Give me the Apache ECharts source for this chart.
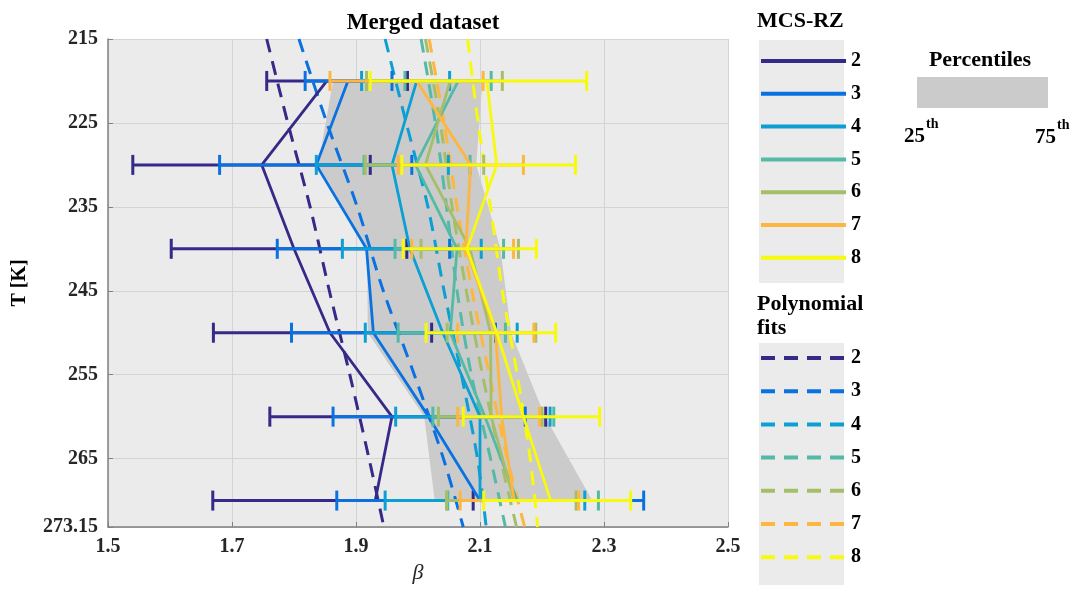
<!DOCTYPE html>
<html><head><meta charset="utf-8">
<script src="https://cdn.jsdelivr.net/npm/echarts@6.0.0/dist/echarts.min.js"></script>
<style>html,body{margin:0;padding:0;background:#fff}#c{width:1084px;height:599px}</style>
</head><body><div id="c"></div><script>
// ---- data ----
const temps = [220, 230, 240, 250, 260, 270];
const groups = ['2', '3', '4', '5', '6', '7', '8'];
const colors = ['#352a87', '#0a72e0', '#0c9fd4', '#55baa5', '#a5be6a', '#fdb640', '#f8fa0d'];
// mean beta per group (rows = groups, cols = temps)
const meanBeta = [
  [1.853, 1.748, 1.800, 1.858, 1.958, 1.931],
  [1.887, 1.836, 1.917, 1.928, 2.017, 2.100],
  [1.998, 1.958, 1.987, 2.040, 2.100, 2.100],
  [2.065, 1.996, 2.063, 2.052, 2.108, 2.160],
  [2.052, 2.012, 2.084, 2.117, 2.118, 2.155],
  [1.998, 2.085, 2.077, 2.125, 2.135, 2.155],
  [2.111, 2.127, 2.079, 2.127, 2.170, 2.214]
];
const lowBeta = [
  [1.756, 1.540, 1.602, 1.670, 1.761, 1.669],
  [1.818, 1.680, 1.773, 1.796, 1.863, 1.869],
  [1.909, 1.836, 1.878, 1.915, 1.964, 1.947],
  [1.979, 1.913, 1.963, 1.968, 2.024, 2.048],
  [1.917, 1.915, 2.005, 2.047, 2.033, 2.046],
  [1.858, 1.968, 1.990, 2.064, 2.064, 2.068],
  [1.923, 1.974, 1.976, 2.013, 2.073, 2.106]
];
const highBeta = [
  [1.983, 1.923, 1.982, 2.022, 2.206, 2.089],
  [1.958, 1.990, 2.051, 2.125, 2.173, 2.364],
  [2.051, 2.049, 2.102, 2.160, 2.213, 2.269],
  [2.118, 2.084, 2.138, 2.141, 2.219, 2.291],
  [2.136, 2.106, 2.162, 2.190, 2.200, 2.255],
  [2.105, 2.170, 2.154, 2.187, 2.196, 2.259],
  [2.272, 2.254, 2.191, 2.222, 2.293, 2.343]
];
const fitT = [215, 225, 235, 245, 255, 265, 273.15];
const fitBeta = [
  [1.756, 1.790, 1.826, 1.857, 1.890, 1.921, 1.945],
  [1.808, 1.853, 1.902, 1.944, 1.994, 2.041, 2.073],
  [1.947, 1.981, 2.016, 2.042, 2.070, 2.096, 2.110],
  [2.005, 2.028, 2.046, 2.063, 2.086, 2.117, 2.141],
  [2.012, 2.036, 2.055, 2.078, 2.104, 2.133, 2.159],
  [2.018, 2.042, 2.063, 2.087, 2.115, 2.144, 2.172],
  [2.080, 2.097, 2.117, 2.136, 2.160, 2.181, 2.193]
];
const band25 = [1.863, 1.839, 1.918, 1.919, 2.010, 2.027];
const band75 = [2.104, 2.094, 2.133, 2.150, 2.205, 2.281];
const xTicks = [1.5, 1.7, 1.9, 2.1, 2.3, 2.5];
const yTicks = [215, 225, 235, 245, 255, 265, 273.15];

// ---- chart ----
const SERIF = '"Liberation Serif", "Times New Roman", serif';
const chart = echarts.init(document.getElementById('c'), null, {renderer: 'canvas'});
const series = [];

series.push({
  type: 'custom', name: 'band', z: 1, silent: true,
  data: temps.map((t, i) => [band25[i], band75[i], t]),
  encode: {x: [0, 1], y: 2},
  renderItem: (params, api) => {
    if (params.dataIndex !== 0) return null;
    const pts = [];
    temps.forEach((t, i) => pts.push(api.coord([band25[i], t])));
    for (let i = temps.length - 1; i >= 0; i--) pts.push(api.coord([band75[i], temps[i]]));
    return {type: 'polygon', shape: {points: pts}, style: {fill: '#cbcbcb'}};
  }
});

groups.forEach((g, k) => {
  series.push({
    type: 'line', name: 'fit ' + g, z: 2, smooth: 0.3, symbol: 'none', silent: true,
    data: fitT.map((t, i) => [fitBeta[k][i], t]),
    lineStyle: {color: colors[k], width: 3, type: [14, 9]},
    itemStyle: {color: colors[k]}
  });
});

groups.forEach((g, k) => {
  const col = colors[k];
  series.push({
    type: 'custom', name: 'err ' + g, z: 3 + 2 * k, silent: true,
    data: temps.map((t, i) => [lowBeta[k][i], highBeta[k][i], t]),
    encode: {x: [0, 1], y: 2},
    renderItem: (params, api) => {
      const lo = api.coord([api.value(0), api.value(2)]);
      const hi = api.coord([api.value(1), api.value(2)]);
      const h = 10;
      const st = {stroke: col, lineWidth: 3};
      return {type: 'group', children: [
        {type: 'line', shape: {x1: lo[0], y1: lo[1], x2: hi[0], y2: hi[1]}, style: st},
        {type: 'line', shape: {x1: lo[0], y1: lo[1] - h, x2: lo[0], y2: lo[1] + h}, style: st},
        {type: 'line', shape: {x1: hi[0], y1: hi[1] - h, x2: hi[0], y2: hi[1] + h}, style: st}
      ]};
    }
  });
  series.push({
    type: 'line', name: 'MCS-RZ ' + g, z: 4 + 2 * k, symbol: 'none', silent: true,
    data: temps.map((t, i) => [meanBeta[k][i], t]),
    lineStyle: {color: col, width: 2.8},
    itemStyle: {color: col}
  });
});

const legendText = {fontFamily: SERIF, fontWeight: 'bold', fontSize: 20, color: '#000', lineHeight: 20};

const option = {
  animation: false,
  backgroundColor: '#fff',
  title: {
    text: 'Merged dataset', left: 418, top: 7, textAlign: 'center',
    textStyle: {fontFamily: SERIF, fontWeight: 'bold', fontSize: 23, color: '#000'}
  },
  grid: {left: 108, right: 356, top: 39, bottom: 72, show: true, backgroundColor: '#ebebeb', borderWidth: 0},
  xAxis: {
    type: 'value', min: 1.5, max: 2.5,
    name: 'β', nameLocation: 'middle', nameGap: 34,
    nameTextStyle: {fontFamily: SERIF, fontStyle: 'italic', fontSize: 22, color: '#262626'},
    axisLine: {show: true, lineStyle: {color: '#808080', width: 1.5}},
    axisTick: {show: true, inside: true, length: 5, customValues: xTicks, lineStyle: {color: '#808080'}},
    axisLabel: {customValues: xTicks, margin: 10, fontFamily: SERIF, fontWeight: 'bold', fontSize: 20, color: '#262626'},
    splitLine: {show: true, lineStyle: {color: '#d4d4d4', width: 1}}
  },
  yAxis: {
    type: 'value', min: 215, max: 273.15, inverse: true,
    name: 'T [K]', nameLocation: 'middle', nameGap: 78,
    nameTextStyle: {fontFamily: SERIF, fontWeight: 'bold', fontSize: 20, color: '#000'},
    axisLine: {show: true, lineStyle: {color: '#808080', width: 1.5}},
    axisTick: {show: true, inside: true, length: 5, customValues: yTicks, lineStyle: {color: '#808080'}},
    axisLabel: {customValues: yTicks, margin: 10, fontFamily: SERIF, fontWeight: 'bold', fontSize: 20, color: '#262626'},
    splitLine: {show: true, lineStyle: {color: '#d4d4d4', width: 1}}
  },
  legend: [
    {
      data: groups.map(g => 'MCS-RZ ' + g), left: 759, top: 51, orient: 'vertical', padding: 0,
      itemWidth: 85, itemHeight: 14, itemGap: 12.8, selectedMode: false,
      formatter: n => n.split(' ')[1], textStyle: legendText,
      lineStyle: {width: 4}, itemStyle: {opacity: 0, borderWidth: 0}
    },
    {
      data: groups.map(g => 'fit ' + g), left: 759, top: 348, orient: 'vertical', padding: 0,
      itemWidth: 85, itemHeight: 14, itemGap: 13.2, selectedMode: false,
      formatter: n => n.split(' ')[1], textStyle: legendText,
      lineStyle: {width: 4}, itemStyle: {opacity: 0, borderWidth: 0}
    }
  ],
  graphic: [
    {type: 'rect', z: -10, silent: true, shape: {x: 759, y: 40, width: 85, height: 243}, style: {fill: '#ebebeb'}},
    {type: 'rect', z: -10, silent: true, shape: {x: 759, y: 343, width: 85, height: 242}, style: {fill: '#ebebeb'}},
    {type: 'text', silent: true, x: 757, y: 21, style: {text: 'MCS-RZ', font: 'bold 22px ' + SERIF, fill: '#000', textAlign: 'left', textVerticalAlign: 'middle'}},
    {type: 'text', silent: true, x: 757, y: 304, style: {text: 'Polynomial', font: 'bold 22px ' + SERIF, fill: '#000', textAlign: 'left', textVerticalAlign: 'middle'}},
    {type: 'text', silent: true, x: 757, y: 328, style: {text: 'fits', font: 'bold 22px ' + SERIF, fill: '#000', textAlign: 'left', textVerticalAlign: 'middle'}},
    {type: 'text', silent: true, x: 980, y: 60, style: {text: 'Percentiles', font: 'bold 22px ' + SERIF, fill: '#000', textAlign: 'center', textVerticalAlign: 'middle'}},
    {type: 'rect', silent: true, shape: {x: 917, y: 77, width: 131, height: 31}, style: {fill: '#cbcbcb'}},
    {type: 'text', silent: true, x: 904, y: 137, style: {text: '25', font: 'bold 21px ' + SERIF, fill: '#000', textAlign: 'left', textVerticalAlign: 'middle'}},
    {type: 'text', silent: true, x: 926, y: 124, style: {text: 'th', font: 'bold 14px ' + SERIF, fill: '#000', textAlign: 'left', textVerticalAlign: 'middle'}},
    {type: 'text', silent: true, x: 1035, y: 138, style: {text: '75', font: 'bold 21px ' + SERIF, fill: '#000', textAlign: 'left', textVerticalAlign: 'middle'}},
    {type: 'text', silent: true, x: 1057, y: 125, style: {text: 'th', font: 'bold 14px ' + SERIF, fill: '#000', textAlign: 'left', textVerticalAlign: 'middle'}}
  ],
  series: series
};
chart.setOption(option);
</script></body></html>
